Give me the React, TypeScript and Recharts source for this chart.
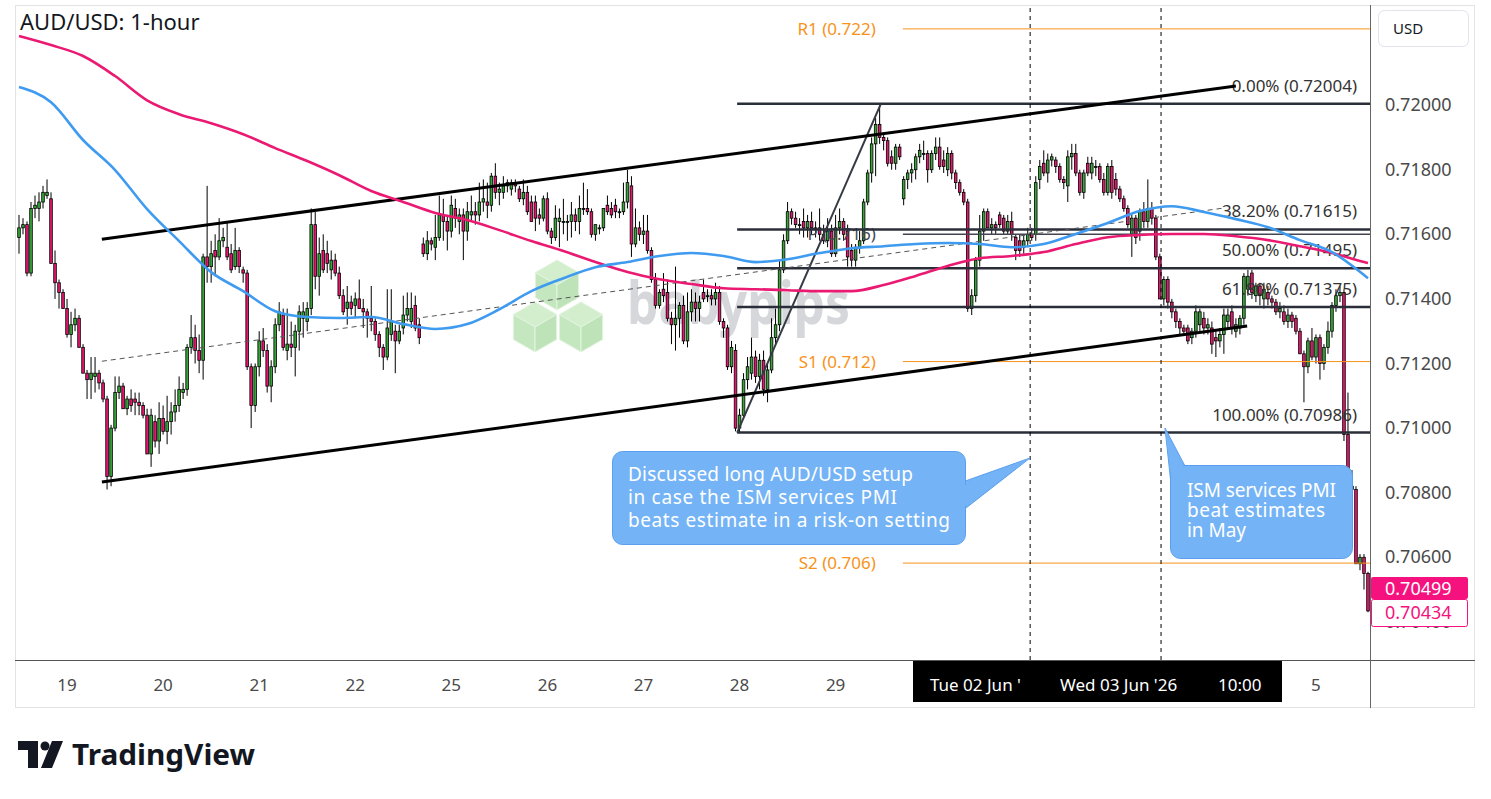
import React from "react";
import { ComposedChart, Bar, Line, XAxis, YAxis, ReferenceLine } from "recharts";

const FONT = "'Noto Sans', 'DejaVu Sans', sans-serif";
const GREEN = "#36a636";
const PINK = "#e8166f";
const BLUE_MA = "#3f9bf0";
const PINK_MA = "#ea1a72";
const ORANGE = "#f7931a";
const LEVEL = "#2a2e39";

// price = 0.70000 + pips / 10000
const BASE = 0.7;
const toPrice = (p: number) => +(BASE + p / 10000).toFixed(6);

// hourly candles [open, high, low, close], pips above 0.70000
const may18 = [
  [159, 166, 154, 162], [162, 165, 160, 163], [163, 164, 147, 148], [148, 170, 147, 168],
  [168, 172, 165, 169], [168, 173, 164, 170], [170, 175, 168, 173], [172, 177, 171, 173],
  [171, 173, 151, 151], [151, 155, 140, 145], [145, 146, 137, 142], [142, 143, 137, 137],
];
const may19 = [
  [137, 140, 128, 129], [129, 136, 125, 132], [132, 137, 130, 134], [134, 135, 125, 125],
  [125, 126, 117, 117], [117, 118, 109, 115], [115, 122, 109, 117], [116, 122, 111, 117],
  [117, 118, 112, 114], [114, 115, 108, 109], [109, 110, 81, 85], [85, 101, 82, 100],
  [100, 116, 99, 111], [111, 116, 109, 113], [113, 114, 106, 106], [106, 110, 104, 109],
  [109, 112, 105, 107], [109, 111, 104, 108], [108, 111, 104, 107], [107, 108, 103, 104],
  [104, 106, 92, 92], [92, 106, 88, 104], [102, 104, 94, 96], [96, 108, 92, 103],
];
const may20 = [
  [103, 107, 98, 99], [99, 110, 95, 102], [102, 108, 98, 105], [105, 112, 102, 107],
  [107, 116, 105, 112], [111, 114, 109, 112], [112, 126, 110, 125], [125, 135, 123, 128],
  [128, 132, 120, 124], [124, 129, 117, 121], [121, 154, 115, 153], [153, 175, 145, 150],
  [150, 158, 145, 154], [155, 160, 147, 153], [153, 165, 152, 158], [158, 162, 156, 159],
  [156, 164, 152, 153], [154, 157, 148, 149], [150, 162, 149, 155], [155, 156, 148, 150],
  [149, 150, 145, 148], [148, 149, 118, 119], [119, 120, 100, 107], [107, 120, 105, 119],
];
const may21 = [
  [119, 130, 116, 127], [127, 131, 122, 124], [124, 126, 111, 113], [113, 121, 108, 119],
  [119, 134, 117, 132], [132, 139, 130, 136], [135, 137, 124, 125], [124, 137, 121, 126],
  [126, 133, 122, 125], [125, 132, 116, 130], [130, 138, 124, 136], [134, 139, 128, 136],
  [133, 139, 130, 137], [137, 168, 135, 163], [163, 167, 143, 147], [147, 159, 141, 154],
  [155, 160, 148, 149], [154, 158, 148, 151], [149, 155, 146, 152], [152, 154, 147, 148],
  [148, 150, 140, 141], [141, 143, 135, 136], [137, 144, 132, 139], [139, 141, 135, 137],
];
const may22 = [
  [138, 142, 134, 140], [140, 146, 137, 137], [137, 140, 131, 136], [136, 137, 128, 134],
  [134, 144, 130, 133], [133, 134, 127, 129], [129, 130, 122, 125], [125, 126, 118, 122],
  [122, 143, 121, 131], [129, 143, 127, 133], [130, 132, 117, 127], [127, 132, 126, 130],
  [131, 141, 129, 135], [135, 142, 133, 137], [133, 142, 131, 137], [138, 141, 130, 131],
  [132, 134, 126, 128],
];
const may25 = [
  [157, 159, 153, 154], [154, 161, 152, 158], [158, 159, 155, 157], [156, 166, 152, 159],
  [159, 172, 158, 166], [166, 171, 158, 164], [164, 166, 155, 161], [161, 172, 159, 169],
  [168, 171, 162, 165], [164, 168, 160, 166], [166, 168, 152, 161], [161, 170, 158, 167],
  [166, 172, 164, 167], [167, 170, 163, 166], [166, 176, 164, 170], [170, 177, 167, 171],
  [170, 176, 165, 169], [169, 179, 167, 178], [178, 182, 171, 173], [173, 176, 169, 174],
  [173, 178, 171, 175], [175, 177, 173, 176], [174, 177, 172, 176], [176, 177, 173, 175],
  [174, 175, 170, 171], [171, 177, 169, 173], [173, 175, 166, 167], [170, 172, 164, 164],
  [170, 172, 161, 165], [166, 168, 163, 165], [165, 172, 164, 171],
];
const may26 = [
  [171, 173, 160, 161], [161, 162, 157, 159], [159, 169, 158, 165], [164, 168, 156, 165],
  [164, 171, 160, 164], [164, 166, 158, 164], [164, 170, 159, 166], [166, 168, 161, 164],
  [164, 172, 160, 168], [168, 176, 166, 168], [168, 174, 166, 167], [167, 168, 159, 160],
  [160, 163, 158, 163], [162, 163, 160, 162], [162, 168, 161, 168], [169, 172, 166, 167],
  [168, 170, 165, 166], [169, 171, 165, 167], [167, 168, 165, 167], [167, 176, 166, 170],
  [170, 180, 168, 176], [175, 178, 153, 157], [157, 168, 156, 162], [162, 164, 158, 160],
];
const may27 = [
  [160, 166, 157, 161], [161, 166, 154, 155], [155, 156, 145, 146], [146, 148, 137, 138],
  [138, 143, 137, 142], [143, 148, 139, 141], [142, 146, 133, 134], [134, 136, 126, 132],
  [132, 150, 124, 134], [134, 139, 128, 138], [138, 141, 126, 127], [127, 142, 125, 136],
  [136, 143, 133, 139], [139, 142, 133, 137], [137, 141, 133, 139], [142, 146, 139, 140],
  [141, 143, 139, 141], [141, 143, 138, 140], [140, 145, 138, 142], [142, 144, 132, 133],
  [133, 134, 128, 131], [131, 132, 118, 119], [119, 127, 117, 125], [124, 126, 99, 100],
];
const may28 = [
  [100, 106, 98.6, 104], [104, 117, 103, 115], [115, 122, 112, 119], [117, 128, 115, 122],
  [122, 124, 114, 116], [116, 123, 112, 121], [121, 124, 110, 112], [112, 120, 108, 118],
  [118, 134, 117, 128], [128, 137, 126, 132], [132, 152, 130, 149], [149, 160, 148, 158],
  [158, 170, 157, 167], [167, 168, 163, 165], [165, 167, 162, 163], [163, 165, 160, 163],
  [164, 168, 159, 162], [162, 166, 159, 164], [164, 167, 160, 162], [162, 164, 159, 162],
  [162, 168, 158, 160], [160, 163, 157, 158], [158, 165, 156, 161], [161, 163, 153, 154],
];
const may29 = [
  [154, 166, 153, 162], [162, 168, 160, 164], [164, 165, 158, 160], [161, 163, 150, 153],
  [155, 157, 150, 152], [152, 157, 150, 156], [156, 161, 154, 158], [158, 171, 157, 170],
  [170, 180, 169, 179], [179, 190, 176, 188], [188, 196, 178, 194], [194, 200.4, 188, 190],
  [190, 191, 186, 189], [189, 190, 181, 182], [184, 186, 180, 182], [182, 188, 180, 187],
  [187, 188, 183, 184],
];
const jun1 = [
  [171, 178, 169, 177], [177, 180, 174, 179], [179, 182, 176, 180], [180, 185, 177, 184],
  [184, 188, 182, 186], [185, 189, 183, 185], [185, 186, 176, 180], [180, 186, 179, 185],
  [185, 190, 183, 187], [187, 190, 180, 181], [183, 186, 179, 181], [180, 187, 178, 185],
  [185, 186, 177, 179], [179, 180, 174, 176], [176, 177, 172, 173], [173, 174, 169, 170],
  [170, 171, 136, 137], [137, 143, 135, 141], [141, 153, 139, 152], [152, 166, 150, 161],
  [161, 168, 158, 167], [167, 168, 162, 162], [162, 165, 160, 163], [163, 164, 160, 162],
  [166, 167, 162, 163], [165, 166, 160, 161], [161, 166, 160, 164], [164, 167, 158, 160],
  [159, 160, 152, 155], [158, 160, 153, 155], [156, 160, 154, 158],
];
const jun2 = [
  [158, 162, 156, 160], [160, 162, 158, 159], [160, 178, 158, 176], [177, 183, 174, 181],
  [182, 186, 178, 179], [179, 185, 176, 183], [183, 185, 181, 184], [183, 184, 179, 181],
  [181, 182, 176, 177], [177, 178, 174, 176], [175, 186, 170, 184], [184, 188, 180, 185],
  [185, 188, 178, 179], [179, 180, 172, 173], [173, 180, 171, 179], [182, 184, 178, 179],
  [179, 184, 177, 182], [181, 183, 178, 181], [181, 182, 176, 177], [177, 179, 172, 173],
  [173, 182, 172, 181], [181, 183, 171, 173], [177, 179, 172, 174], [174, 175, 170, 171],
];
const jun3 = [
  [171, 172, 167, 168], [168, 169, 162, 163], [160, 166, 153, 165], [165, 166, 157, 159],
  [161, 168, 158, 167], [167, 170, 162, 164], [164, 177, 162, 168], [168, 170, 163, 165],
  [165, 166, 152, 153], [153, 154, 140, 140], [140, 147, 138, 146], [146, 147, 137, 139],
  [139, 140, 134, 136], [136, 137, 131, 133], [133, 134, 129, 131], [131, 132, 129, 130],
  [131, 132, 126, 127], [128, 131, 126, 130], [130, 138, 128, 136], [132, 137, 130, 136],
  [134, 136, 129, 131], [131, 134, 129, 132], [131, 133, 123, 126], [128, 130, 122, 127],
];
const jun4 = [
  [127, 131, 125, 129], [129, 137, 123, 135], [133, 137, 131, 135], [136, 138, 129, 131],
  [130, 134, 128, 132], [131, 135, 129, 134], [134, 148, 132, 147], [143, 149, 141, 147],
  [148, 149, 140, 142], [141, 145, 139, 144], [144, 145, 138, 141], [140, 145, 137, 143],
  [142, 144, 138, 140], [140, 141, 137, 139], [139, 140, 135, 136], [136, 139, 134, 137],
  [136, 138, 132, 133], [133, 137, 131, 135], [135, 136, 131, 133], [134, 135, 129, 130],
  [130, 131, 123, 123], [123, 124, 108, 119], [119, 128, 117, 127], [127, 131, 121, 122],
];
const jun5 = [
  [122, 129, 120, 128], [128, 129, 115, 120], [120, 126, 118, 125], [125, 133, 123, 130],
  [130, 139, 128, 138], [138, 143, 136, 141], [141, 144, 139, 142], [142, 143, 96, 98],
  [98, 111, 81, 82], [82, 87, 66, 81], [81, 82, 58, 58], [58, 61, 56, 60],
  [60, 61, 50, 55], [55, 55.5, 43, 43.4],
];

// moving averages, pips, one value every 8 candles (last = final candle)
const ma100 = [
  205.6, 200.9, 189.2, 179.9, 167.8, 157.9, 148.3, 142.4, 136.2, 134.4, 134.1, 134.4,
  132.2, 130.7, 132.2, 136.8, 142.4, 146.4, 149.8, 151.4, 153.3, 154.2, 153.3, 151.4,
  152.3, 154.2, 155.7, 156.3, 157.0, 157.3, 157.0, 156.0, 157.0, 160.1, 163.5, 167.2,
  168.7, 166.9, 164.7, 162.2, 158.2, 154.5, 147.4, 146.4,
];
const ma200 = [
  221.4, 218.6, 215.2, 209.0, 201.5, 197.2, 194.4, 191.0, 186.7, 182.7, 178.3, 173.4,
  170.0, 166.6, 164.4, 161.3, 157.9, 154.8, 151.4, 148.3, 146.1, 144.6, 143.3, 143.0,
  142.7, 142.4, 142.4, 144.3, 147.1, 150.2, 152.6, 153.3, 154.5, 157.0, 159.1, 159.8,
  160.1, 160.1, 159.4, 158.2, 156.3, 154.2, 151.4, 151.1,
];

// axes (day labels hidden under the crosshair box are left out)
const dayTicks = [12, 36, 60, 84, 108, 132, 156, 180, 204, 324];
const dayLabels = ["19", "20", "21", "22", "25", "26", "27", "28", "29", "5"];
const priceTicks = [0.704, 0.706, 0.708, 0.71, 0.712, 0.714, 0.716, 0.718, 0.72];

// drawings: [fromCandle, fromPips, toCandle, toPips]
const channelTop = [20.7, 158.5, 304, 205.9];
const channelBottom = [20.7, 83.3, 306.8, 131.6];
const channelMid = [20.7, 120.7, 300.8, 168.1];
const fibSwing = [179.4, 98.6, 215.3, 200.4];
const fibStart = 179.4;
const fibLevels = [
  { label: "0.00% (0.72004)", price: 0.72004 },
  { label: "38.20% (0.71615)", price: 0.71615 },
  { label: "50.00% (0.71495)", price: 0.71495 },
  { label: "61.80% (0.71375)", price: 0.71375 },
  { label: "100.00% (0.70986)", price: 0.70986 },
];
const pivotStart = 220.8;
const pivots = [
  { label: "R1 (0.722)", price: 0.72236, color: ORANGE, width: 1 },
  { label: "P (0.716)", price: 0.716, color: "#434651", width: 1.5 },
  { label: "S1 (0.712)", price: 0.71206, color: ORANGE, width: 1 },
  { label: "S2 (0.706)", price: 0.70582, color: ORANGE, width: 1 },
];
const eventLines = [252.6, 285.3];

const candles = [
  ...may18, ...may19, ...may20, ...may21, ...may22, ...may25, ...may26,
  ...may27, ...may28, ...may29, ...jun1, ...jun2, ...jun3, ...jun4, ...jun5,
];
const lastIdx = candles.length - 1;

const data: any[] = candles.map(([o, h, l, c], i) => ({
  i,
  o: toPrice(o),
  h: toPrice(h),
  l: toPrice(l),
  c: toPrice(c),
  range: [toPrice(l), toPrice(h)],
}));
ma100.forEach((v, k) => {
  const idx = Math.min(k * 8, lastIdx);
  data[idx].ma100 = toPrice(v);
  data[idx].ma200 = toPrice(ma200[k]);
});

const seg = (s: number[]) => [
  { x: s[0], y: toPrice(s[1]) },
  { x: s[2], y: toPrice(s[3]) },
];

function Candle(props: any) {
  const { x, y, width, height, payload } = props;
  if (!payload) return null;
  const top = Math.min(y, y + height);
  const span = Math.abs(height);
  const k = span / (payload.h - payload.l);
  const cx = x + width / 2;
  const yo = top + (payload.h - payload.o) * k;
  const yc = top + (payload.h - payload.c) * k;
  const up = payload.c >= payload.o;
  const bTop = Math.min(yo, yc);
  const bH = Math.max(Math.abs(yc - yo), 1);
  return (
    <g>
      <line x1={cx} x2={cx} y1={top} y2={top + span} stroke="#000" strokeWidth={1} />
      <rect x={cx - 1.3} y={bTop} width={2.6} height={bH} fill={up ? GREEN : PINK} stroke="#000" strokeWidth={0.8} />
    </g>
  );
}

const XTick = ({ x, y, payload }: any) => {
  const k = dayTicks.indexOf(payload.value);
  return (
    <text x={x} y={y + 31} textAnchor="middle" fontSize={17} fill="#4a4a4a" fontFamily={FONT}>
      {dayLabels[k]}
    </text>
  );
};

const YTick = ({ x, y, payload }: any) => (
  <text x={x + 15} y={y + 6} textAnchor="start" fontSize={18} fill="#4a4a4a" fontFamily={FONT}>
    {Number(payload.value).toFixed(5)}
  </text>
);

const fibLabel = (text: string) => (p: any) => {
  const vb = p.viewBox;
  if (!vb) return null;
  return (
    <text x={vb.x + vb.width - 13} y={vb.y - 12} textAnchor="end" fontSize={17} fill="#333" fontFamily={FONT}>
      {text}
    </text>
  );
};

const pivotLabel = (text: string, color: string) => (p: any) => {
  const vb = p.viewBox;
  if (!vb) return null;
  return (
    <text x={vb.x - 27} y={vb.y + 6} textAnchor="end" fontSize={17} fill={color} fontFamily={FONT}>
      {text}
    </text>
  );
};

function Cube({ cx, cy, r }: { cx: number; cy: number; r: number }) {
  const w = (r * Math.sqrt(3)) / 2;
  const top = `${cx},${cy - r} ${cx + w},${cy - r / 2} ${cx},${cy} ${cx - w},${cy - r / 2}`;
  const left = `${cx - w},${cy - r / 2} ${cx},${cy} ${cx},${cy + r} ${cx - w},${cy + r / 2}`;
  const right = `${cx + w},${cy - r / 2} ${cx},${cy} ${cx},${cy + r} ${cx + w},${cy + r / 2}`;
  return (
    <g stroke="#e4f4e1" strokeWidth={1}>
      <polygon points={top} fill="#d2eecd" />
      <polygon points={left} fill="#c5e7bf" />
      <polygon points={right} fill="#bee3b8" />
    </g>
  );
}

export default function App() {
  return (
    <div style={{ position: "absolute", left: 0, top: 0, width: 1491, height: 799, background: "#fff", fontFamily: FONT }}>
      {/* watermark under the chart */}
      <svg width={1491} height={799} style={{ position: "absolute", left: 0, top: 0 }}>
        <Cube cx={557} cy={285} r={25} />
        <Cube cx={535} cy={327} r={25} />
        <Cube cx={581} cy={327} r={25} />
        <text x={627} y={324} fontSize={60} fontWeight={700} fill="#d5d7da" fontFamily={FONT} textLength={223} lengthAdjust="spacingAndGlyphs">
          babypips
        </text>
      </svg>

      <div style={{ position: "absolute", left: 15, top: 5 }}>
        <ComposedChart width={1460} height={703} data={data} margin={{ top: 0, right: 0, bottom: 0, left: 2 }}>
          <XAxis
            dataKey="i"
            type="number"
            domain={[-0.5, 337.5]}
            ticks={dayTicks}
            interval={0}
            height={48}
            axisLine={false}
            tickLine={false}
            tickSize={0}
            tickMargin={0}
            tick={<XTick />}
            allowDataOverflow
          />
          <YAxis
            orientation="right"
            domain={[0.70282, 0.7231]}
            ticks={priceTicks}
            width={105}
            axisLine={false}
            tickLine={false}
            tickSize={0}
            tickMargin={0}
            tick={<YTick />}
            allowDataOverflow
          />

          {pivots.map((p) => (
            <ReferenceLine
              key={p.label}
              segment={[{ x: pivotStart, y: p.price }, { x: 337.5, y: p.price }]}
              stroke={p.color}
              strokeWidth={p.width}
              label={pivotLabel(p.label, p.color)}
            />
          ))}
          {fibLevels.map((f) => (
            <ReferenceLine
              key={f.label}
              segment={[{ x: fibStart, y: f.price }, { x: 337.5, y: f.price }]}
              stroke={LEVEL}
              strokeWidth={2.5}
              label={fibLabel(f.label)}
            />
          ))}
          <ReferenceLine segment={seg(fibSwing)} stroke="#363a45" strokeWidth={2} />
          <ReferenceLine segment={seg(channelTop)} stroke="#000" strokeWidth={3} />
          <ReferenceLine segment={seg(channelBottom)} stroke="#000" strokeWidth={3} />
          <ReferenceLine segment={seg(channelMid)} stroke="#555" strokeWidth={1} strokeDasharray="5 4" />
          {eventLines.map((x) => (
            <ReferenceLine key={x} x={x} stroke="#000" strokeWidth={1} strokeDasharray="4 4" />
          ))}

          <Line dataKey="ma200" type="monotone" stroke={PINK_MA} strokeWidth={2.6} dot={false} connectNulls isAnimationActive={false} />
          <Line dataKey="ma100" type="monotone" stroke={BLUE_MA} strokeWidth={2.6} dot={false} connectNulls isAnimationActive={false} />
          <Bar dataKey="range" barSize={4} shape={Candle} isAnimationActive={false} />
        </ComposedChart>
      </div>

      {/* chrome and annotations */}
      <svg width={1491} height={799} style={{ position: "absolute", left: 0, top: 0, pointerEvents: "none" }} fontFamily={FONT}>
        <rect x={15.5} y={5.5} width={1459} height={702} fill="none" stroke="#e3e3e3" />
        <line x1={15} x2={1475} y1={660.5} y2={660.5} stroke="#555" strokeWidth={1.2} />
        <line x1={1370.5} x2={1370.5} y1={5} y2={708} stroke="#666" strokeWidth={1} />

        <text x={20} y={30} fontSize={22} fill="#131722">AUD/USD: 1-hour</text>

        <rect x={1378.5} y={10.5} width={90} height={36} rx={6} fill="#fff" stroke="#e0e3eb" />
        <text x={1393} y={34} fontSize={15} fill="#131722">USD</text>

        <rect x={1371} y={577} width={97} height={22} rx={2} fill="#f5127e" />
        <text x={1385} y={595} fontSize={18} fill="#fff">0.70499</text>
        <rect x={1371.5} y={599.5} width={96} height={27} rx={2} fill="#fff" stroke="#f5127e" />
        <text x={1385} y={619} fontSize={18} fill="#f5127e">0.70434</text>

        <rect x={913} y={661} width={369} height={41} fill="#000" />
        <text x={930} y={691} fontSize={17} fill="#fff">Tue 02 Jun '</text>
        <text x={1060} y={691} fontSize={17} fill="#fff">Wed 03 Jun '26</text>
        <text x={1218} y={691} fontSize={17} fill="#fff">10:00</text>

        {/* callout 1 */}
        <g>
          <path d="M940,490 L1030,458 L966,508 Z" fill="#74b3f5" stroke="#5a9fef" strokeWidth={1} />
          <rect x={612.5} y={451.5} width={353} height={93} rx={10} fill="#74b3f5" stroke="#5a9fef" />
          <path d="M950,491 L1030,458 L965,506 Z" fill="#74b3f5" />
          <text x={628} y={481} fontSize={19} fill="#fff" textLength={285}>Discussed long AUD/USD setup</text>
          <text x={628} y={504} fontSize={19} fill="#fff" textLength={269}>in case the ISM services PMI</text>
          <text x={628} y={527} fontSize={19} fill="#fff" textLength={322}>beats estimate in a risk-on setting</text>
        </g>
        {/* callout 2 */}
        <g>
          <path d="M1185,466 L1165,428 L1171,484 Z" fill="#74b3f5" stroke="#5a9fef" strokeWidth={1} />
          <rect x={1170.5} y={465.5} width={182} height={93} rx={10} fill="#74b3f5" stroke="#5a9fef" />
          <path d="M1184,467 L1165,429 L1172,482 Z" fill="#74b3f5" />
          <text x={1187} y={497} fontSize={19} fill="#fff" textLength={149}>ISM services PMI</text>
          <text x={1187} y={517} fontSize={19} fill="#fff" textLength={138}>beat estimates</text>
          <text x={1187} y={537} fontSize={19} fill="#fff" textLength={59}>in May</text>
        </g>

        {/* TradingView logo */}
        <g fill="#131722">
          <path d="M18,741 H38 V768 H28 V750 H18 Z" />
          <circle cx={45} cy={746} r={4.5} />
          <path d="M52,741 H63 L52,768 H41 Z" />
          <text x={72} y={765} fontSize={29} fontWeight={700} textLength={183} lengthAdjust="spacingAndGlyphs">TradingView</text>
        </g>
      </svg>
    </div>
  );
}
